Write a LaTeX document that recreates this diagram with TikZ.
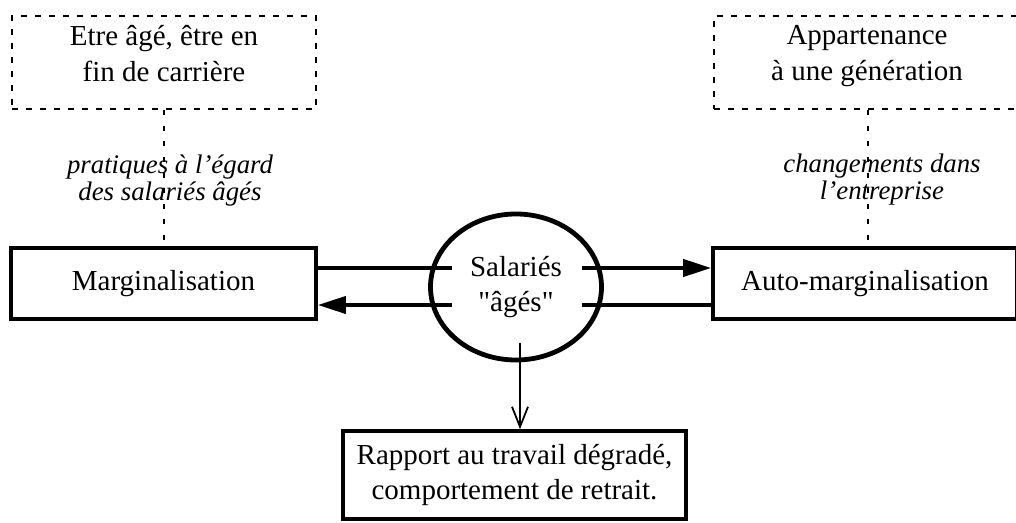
\documentclass[tikz,border=0pt]{standalone}
\usepackage{fontspec}
\setmainfont{Liberation Serif}[Ligatures=TeXOff]
\usetikzlibrary{arrows.meta,shapes.geometric}
\begin{document}
\begin{tikzpicture}[x=0.5pt,y=-0.5pt,
  txt/.style={font=\fontsize{14.5}{18}\selectfont, align=center, inner sep=0pt},
  ital/.style={font=\fontsize{13.4}{13.5}\selectfont\itshape, align=center, inner sep=0pt},
  dashbox/.style={draw, line width=1.3pt, dash pattern=on 3pt off 4pt, inner sep=0pt},
  solidbox/.style={draw, line width=1.8pt, inner sep=0pt, font=\fontsize{14.5}{17.5}\selectfont, align=center},
  dotline/.style={line width=1.2pt, dash pattern=on 2.5pt off 5.3pt},
  conn/.style={line width=1.9pt},
  bigtip/.style={-{Triangle[length=14pt,width=8.5pt]}},
  thinarrow/.style={line width=0.9pt, -{Straight Barb[length=10pt,width=8pt,line width=0.9pt]}}]
\useasboundingbox (0,0) rectangle (1016,523);
\clip (0,0) rectangle (1016,523);
% top dashed boxes
\node[dashbox, minimum width=152pt, minimum height=46.5pt] (tl) at (164,62.5) {};
\node[txt] (tlt) at (164,54) {Etre âgé, être en\\fin de carrière};
\node[dashbox, minimum width=154pt, minimum height=46.5pt] (tr) at (868,62.5) {};
\node[txt] (trt) at (867,56) {Appartenance\\à une génération};
% main boxes
\node[solidbox, minimum width=152.5pt, minimum height=35.5pt] (marg) at (163.5,283.5) {Marginalisation};
\node[solidbox, minimum width=152pt, minimum height=35.5pt] (auto) at (865,283.5) {Auto-marginalisation};
\node[ellipse, draw, line width=2.4pt, inner sep=0pt, minimum width=85.5pt, minimum height=73pt,
      font=\fontsize{14.5}{17.5}\selectfont, align=center] (sal) at (516,287) {Salariés\\"âgés"};
\node[solidbox, minimum width=171.5pt, minimum height=44pt] (rap) at (514.5,475) {Rapport au travail dégradé,\\comportement de retrait.};
% italic labels
\node[ital] (lab1) at (170,180.5) {pratiques à l’égard\\des salariés âgés};
\node[ital] (lab2) at (882,180) {changements dans\\l’entreprise};
% dotted connectors
\draw[dotline] (tl.south) -- (tl.south |- marg.north);
\draw[dotline] (tr.south) -- (tr.south |- auto.north);
% horizontal connectors
\coordinate (a1) at (452,268);
\coordinate (a2) at (452,305);
\coordinate (b1) at (582,268);
\coordinate (b2) at (582,305);
\coordinate (c) at (520,343);
\draw[conn] (marg.east |- a1) -- (a1);
\draw[conn,bigtip] (a2) -- (marg.east |- a2);
\draw[conn,bigtip] (b1) -- (auto.west |- b1);
\draw[conn] (auto.west |- b2) -- (b2);
\draw[thinarrow] (c) -- (c |- rap.north);
\end{tikzpicture}
\end{document}
